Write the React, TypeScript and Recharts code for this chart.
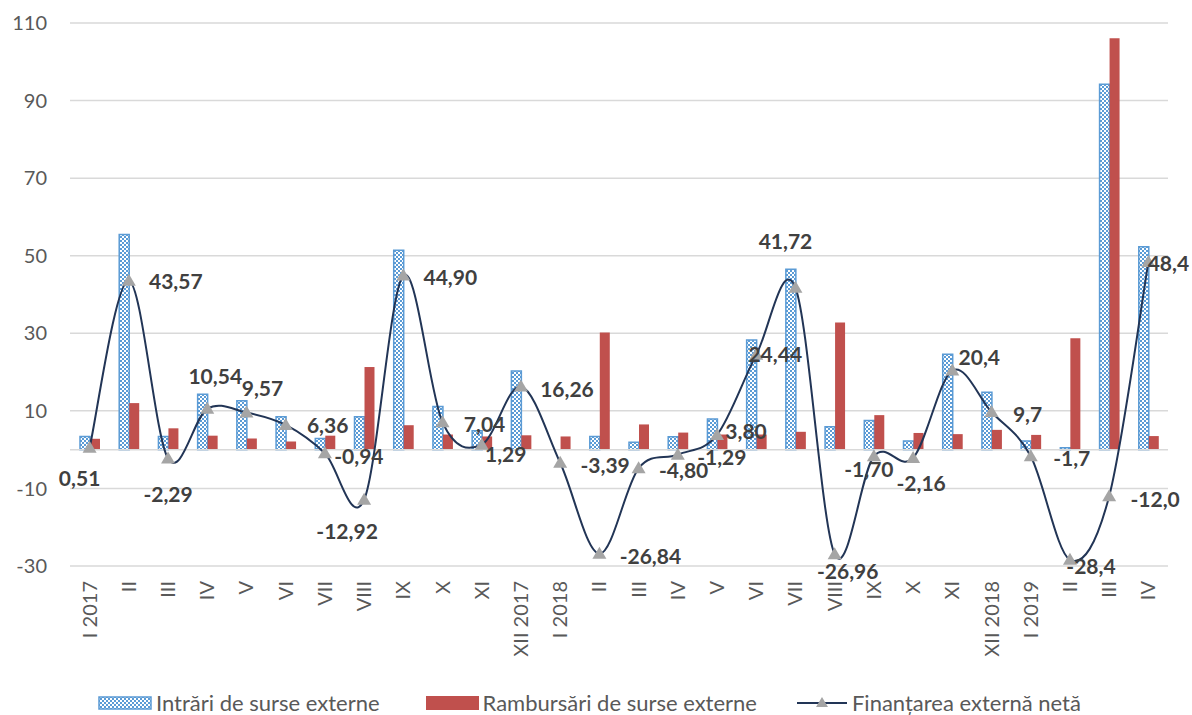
import React from "react";
import {
  ComposedChart,
  Bar,
  Line,
  XAxis,
  YAxis,
  CartesianGrid,
  ReferenceLine,
  Legend,
  LabelList,
} from "recharts";

const categories = [
  "I 2017", "II", "III", "IV", "V", "VI", "VII", "VIII", "IX", "X", "XI", "XII 2017",
  "I 2018", "II", "III", "IV", "V", "VI", "VII", "VIII", "IX", "X", "XI", "XII 2018",
  "I 2019", "II", "III", "IV",
];

const intrari = [
  3.4, 55.5, 3.4, 14.3, 12.6, 8.5, 2.9, 8.5, 51.4, 11.1, 4.9, 20.3,
  0, 3.4, 1.9, 3.3, 7.9, 28.3, 46.5, 5.9, 7.5, 2.2, 24.6, 14.8,
  2.2, 0.5, 94.2, 52.3,
];

const rambursari = [
  2.8, 12.0, 5.5, 3.6, 2.9, 2.1, 3.6, 21.3, 6.3, 3.9, 3.4, 3.7,
  3.4, 30.2, 6.5, 4.4, 3.9, 3.9, 4.6, 32.8, 8.9, 4.3, 4.0, 5.1,
  3.8, 28.7, 106.1, 3.5,
];

const netto = [
  0.51, 43.57, -2.29, 10.54, 9.57, 6.36, -0.94, -12.92, 44.9, 7.04, 1.29, 16.26,
  -3.39, -26.84, -4.8, -1.29, 3.8, 24.44, 41.72, -26.96, -1.7, -2.16, 20.4, 9.7,
  -1.7, -28.4, -12.0, 48.4,
];

const nettoLabels = [
  "0,51", "43,57", "-2,29", "10,54", "9,57", "6,36", "-0,94", "-12,92", "44,90", "7,04", "1,29", "16,26",
  "-3,39", "-26,84", "-4,80", "-1,29", "3,80", "24,44", "41,72", "-26,96", "-1,70", "-2,16", "20,4", "9,7",
  "-1,7", "-28,4", "-12,0", "48,4",
];

const yTicks = [-30, -10, 10, 30, 50, 70, 90, 110];

// label centre offsets from the marker, as placed in the original
const labelOffsets: [number, number][] = [
  [-10, 30], [47, 0], [0, 35], [8, -33], [16, -25], [42, 0], [34, 2], [-17, 31],
  [47, 1], [42, 1], [24, 9], [46, 2], [45, 2], [51, 2], [45, 1], [44, 2],
  [29, -4], [19, -1], [-10, -47], [13, 16], [-5, 12], [8, 24], [27, -14], [36, 1],
  [41, 1], [21, 6], [46, 2], [20, 1],
];

const data = categories.map((name, i) => ({
  name,
  intrari: intrari[i],
  rambursari: rambursari[i],
  netto: netto[i],
}));

const FONT = "Lato, 'Open Sans', sans-serif";
const BLUE = "#5B9BD5";
const RED = "#C0504D";
const NAVY = "#223556";
const GREY = "#A5A5A5";

// Excel-like smoothed line (Catmull-Rom through the points)
const excelCurve = (context: any) => {
  let pts: number[][] = [];
  return {
    areaStart() {},
    areaEnd() {},
    lineStart() {
      pts = [];
    },
    point(x: number, y: number) {
      pts.push([+x, +y]);
    },
    lineEnd() {
      if (!pts.length) return;
      context.moveTo(pts[0][0], pts[0][1]);
      for (let i = 0; i < pts.length - 1; i++) {
        const p0 = pts[i - 1] || pts[i];
        const p1 = pts[i];
        const p2 = pts[i + 1];
        const p3 = pts[i + 2] || p2;
        context.bezierCurveTo(
          p1[0] + (p2[0] - p0[0]) / 6,
          p1[1] + (p2[1] - p0[1]) / 6,
          p2[0] - (p3[0] - p1[0]) / 6,
          p2[1] - (p3[1] - p1[1]) / 6,
          p2[0],
          p2[1]
        );
      }
    },
  };
};

const Triangle = (props: any) => {
  const { cx, cy } = props;
  if (cx == null || cy == null) return null;
  return (
    <polygon
      points={`${cx},${cy - 7} ${cx - 7},${cy + 5} ${cx + 7},${cy + 5}`}
      fill={GREY}
    />
  );
};

const XTick = (props: any) => {
  const { x, y, payload } = props;
  return (
    <text
      transform={`translate(${x},${y + 15}) rotate(-90)`}
      textAnchor="end"
      dy="0.35em"
      fill="#595959"
      fontSize={20}
      fontFamily={FONT}
    >
      {payload.value}
    </text>
  );
};

const NetLabel = (props: any) => {
  const { x, y, index } = props;
  const [dx, dy] = labelOffsets[index] || [40, 0];
  return (
    <text
      x={x + dx}
      y={y + dy}
      textAnchor="middle"
      dominantBaseline="central"
      fill="#404040"
      fontSize={21}
      fontWeight="bold"
      fontFamily={FONT}
    >
      {nettoLabels[index]}
    </text>
  );
};

const LegendContent = () => (
  <div
    style={{
      display: "flex",
      alignItems: "center",
      height: 39,
      boxSizing: "border-box",
      paddingTop: 14,
      paddingLeft: 98,
      fontFamily: FONT,
      fontSize: 22,
      lineHeight: "24px",
      color: "#595959",
      whiteSpace: "nowrap",
    }}
  >
    <svg width={54} height={14} style={{ marginRight: 4 }}>
      <rect x={1} y={1} width={52} height={12} fill="url(#dots)" stroke={BLUE} strokeWidth={1.5} />
    </svg>
    <span>Intrări de surse externe</span>
    <svg width={53} height={14} style={{ marginLeft: 46, marginRight: 4 }}>
      <rect x={0} y={0} width={53} height={14} fill={RED} />
    </svg>
    <span>Rambursări de surse externe</span>
    <svg width={50} height={14} style={{ marginLeft: 40, marginRight: 5 }}>
      <line x1={0} y1={7} x2={50} y2={7} stroke={NAVY} strokeWidth={2} />
      <polygon points="25,1 19,11 31,11" fill={GREY} />
    </svg>
    <span>Finanțarea externă netă</span>
  </div>
);

export default function App() {
  return (
    <div style={{ width: 1192, height: 715, background: "#fff" }}>
      <style>{"body{margin:0}"}</style>
      <ComposedChart
        width={1192}
        height={715}
        data={data}
        margin={{ top: 23, right: 24, left: 0, bottom: 0 }}
        barGap={0}
      >
        <defs>
          <pattern id="dots" patternUnits="userSpaceOnUse" width={4} height={4}>
            <rect width={4} height={4} fill="#ffffff" />
            <rect x={0} y={0} width={2} height={2} fill={BLUE} />
            <rect x={2} y={2} width={2} height={2} fill={BLUE} />
          </pattern>
        </defs>
        <CartesianGrid vertical={false} stroke="#D9D9D9" strokeWidth={1.5} />
        <XAxis
          dataKey="name"
          interval={0}
          axisLine={false}
          tickLine={false}
          tickSize={0}
          tickMargin={0}
          height={110}
          tick={<XTick />}
        />
        <YAxis
          domain={[-30, 110]}
          ticks={yTicks}
          axisLine={false}
          tickLine={false}
          tickSize={0}
          tickMargin={23}
          width={70}
          tick={{ fill: "#595959", fontSize: 20, fontFamily: FONT }}
        />
        <ReferenceLine y={0} stroke="#D9D9D9" strokeWidth={1.5} />
        <Legend verticalAlign="bottom" height={39} content={<LegendContent />} />
        <Bar
          dataKey="intrari"
          name="Intrări de surse externe"
          barSize={10}
          fill="url(#dots)"
          stroke={BLUE}
          strokeWidth={1.5}
          isAnimationActive={false}
        />
        <Bar
          dataKey="rambursari"
          name="Rambursări de surse externe"
          barSize={10}
          fill={RED}
          isAnimationActive={false}
        />
        <Line
          dataKey="netto"
          name="Finanțarea externă netă"
          type={excelCurve as any}
          stroke={NAVY}
          strokeWidth={2}
          dot={<Triangle />}
          activeDot={false}
          isAnimationActive={false}
        >
          <LabelList dataKey="netto" content={<NetLabel />} />
        </Line>
      </ComposedChart>
    </div>
  );
}
